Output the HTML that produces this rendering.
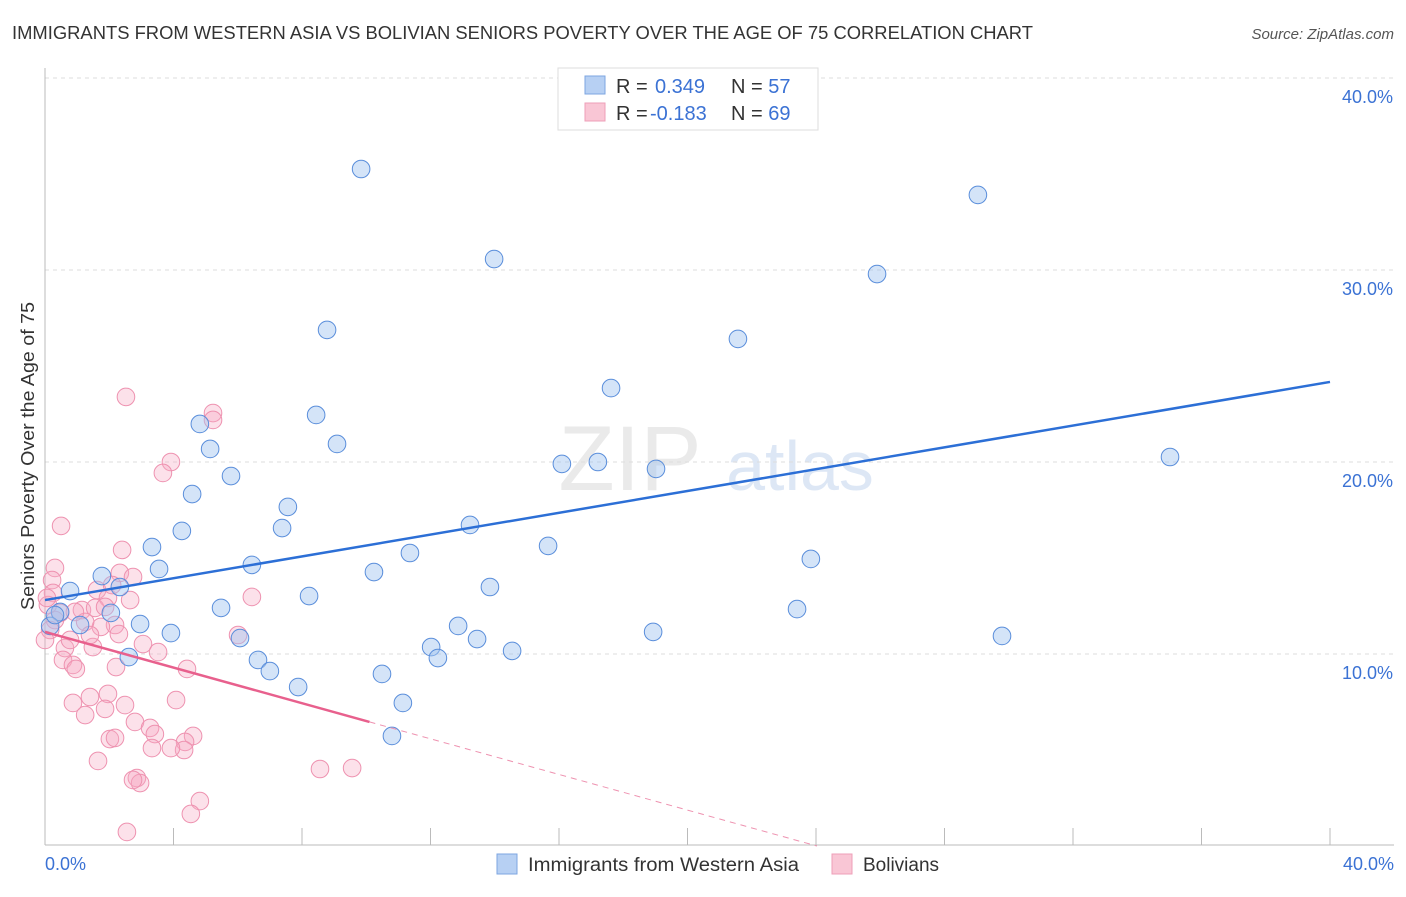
<!DOCTYPE html>
<html><head><meta charset="utf-8"><style>
body{margin:0;background:#fff;font-family:"Liberation Sans",sans-serif;}
svg text{font-family:"Liberation Sans",sans-serif;}
</style></head><body>
<svg id="chart" width="1406" height="892" xmlns="http://www.w3.org/2000/svg">
<text x="12" y="39" font-size="18" fill="#333" textLength="1021" lengthAdjust="spacingAndGlyphs">IMMIGRANTS FROM WESTERN ASIA VS BOLIVIAN SENIORS POVERTY OVER THE AGE OF 75 CORRELATION CHART</text>
<text x="1394" y="39" font-size="15" fill="#555" font-style="italic" text-anchor="end">Source: ZipAtlas.com</text>
<text x="630" y="490" font-size="92" fill="#ddd" font-family="Liberation Serif" text-anchor="middle" opacity="0.6">ZIP</text>
<text x="800" y="490" font-size="70" fill="#c8d8ef" text-anchor="middle" opacity="0.6">atlas</text>
<g id="grid"></g><g id="axes"></g><g id="pts"></g><g id="lines"></g>
<text transform="translate(34,456) rotate(-90)" font-size="18" fill="#333" text-anchor="middle" textLength="308" lengthAdjust="spacingAndGlyphs">Seniors Poverty Over the Age of 75</text>
<g>
<rect x="558" y="68" width="260" height="62" fill="#fff" stroke="#ddd"/>
<rect x="585" y="76" width="20" height="18" fill="#b7d0f3" stroke="#7ea6e0"/>
<rect x="585" y="103" width="20" height="18" fill="#f9c6d5" stroke="#ee9fb8"/>
<text x="616" y="93" font-size="20" fill="#333">R = </text><text x="655" y="93" font-size="20" fill="#3b72d4">0.349</text>
<text x="731" y="93" font-size="20" fill="#333">N = <tspan fill="#3b72d4">57</tspan></text>
<text x="616" y="120" font-size="20" fill="#333">R = </text><text x="650" y="120" font-size="20" fill="#3b72d4">-0.183</text>
<text x="731" y="120" font-size="20" fill="#333">N = <tspan fill="#3b72d4">69</tspan></text>
</g>
<g>
<rect x="497" y="854" width="20" height="20" fill="#b7d0f3" stroke="#7ea6e0"/>
<text x="528" y="871" font-size="19" fill="#333" textLength="271" lengthAdjust="spacingAndGlyphs">Immigrants from Western Asia</text>
<rect x="832" y="854" width="20" height="20" fill="#f9c6d5" stroke="#ee9fb8"/>
<text x="863" y="871" font-size="19" fill="#333">Bolivians</text>
</g>
</svg>
<script>
const blueX=[9.84,29.04,13.98,25.90,8.78,21.57,17.62,8.44,4.82,9.09,5.14,35.02,16.09,17.21,19.02,5.79,4.58,7.56,4.26,7.38,13.23,3.33,15.66,11.36,23.84,6.44,3.55,10.24,1.77,13.85,2.33,0.78,8.22,2.05,5.48,23.41,0.47,1.09,2.96,12.86,3.92,18.93,29.79,0.16,6.07,13.45,12.02,14.54,12.23,2.61,6.63,7.00,7.88,10.49,11.14,10.80,0.31];
const blueY=[35.26,33.91,30.57,29.79,26.88,26.41,23.85,22.45,21.98,20.94,20.68,20.26,19.90,20.00,19.64,19.27,18.33,17.66,16.41,16.56,16.72,15.57,15.63,15.26,14.95,14.64,14.43,14.27,14.06,13.49,13.49,13.28,13.02,12.14,12.40,12.34,12.19,11.51,11.56,11.46,11.09,11.15,10.94,11.46,10.83,10.78,10.36,10.16,9.79,9.84,9.69,9.11,8.28,8.96,7.45,5.73,12.03];
const pinkX=[2.52,5.23,5.23,3.92,3.67,0.50,2.40,0.31,2.33,2.74,0.22,0.25,1.62,1.96,1.15,1.56,1.87,0.47,0.31,2.18,1.74,6.44,6.01,2.30,3.05,3.52,1.49,0.62,0.56,0.87,0.96,2.21,4.42,4.08,0.87,1.40,1.96,1.25,1.87,2.49,2.80,3.27,3.42,4.61,4.36,4.33,3.33,3.92,2.02,2.18,1.65,2.86,2.96,2.74,4.82,4.54,2.55,8.56,9.56,0.09,0.16,0.78,1.25,0.06,0.93,2.09,0,1.40,2.65];
const pinkY=[23.39,22.55,22.19,20.00,19.43,16.67,15.42,14.48,14.22,14.01,13.85,13.18,13.33,12.92,12.29,12.40,12.45,12.14,11.77,11.51,11.41,12.97,10.99,11.04,10.52,10.10,10.36,10.31,9.69,9.43,9.22,9.32,9.22,7.60,7.45,7.76,7.92,6.82,7.14,7.34,6.46,6.15,5.83,5.73,5.42,5.00,5.10,5.10,5.57,5.63,4.43,3.54,3.28,3.44,2.34,1.67,0.73,4.01,4.06,12.55,11.25,10.73,11.67,12.92,12.19,13.59,10.73,10.99,12.81];
const yTicks=[10,20,30,40];
const yTickLabels=["10.0%","20.0%","30.0%","40.0%"];
const blueTrend=[12.81,24.17];
const pinkTrend=[11.15,-0.464];

const NS="http://www.w3.org/2000/svg";
const sx=v=>45+v*32.125, sy=v=>846-v*19.2;
function mk(tag,attrs,parent){const e=document.createElementNS(NS,tag);for(const k in attrs)e.setAttribute(k,attrs[k]);parent.appendChild(e);return e;}
const grid=document.getElementById('grid'),axes=document.getElementById('axes'),pts=document.getElementById('pts'),lines=document.getElementById('lines');
yTicks.forEach((t,i)=>{
 const l=mk('line',{x1:45,x2:1394,y1:sy(t),y2:sy(t),stroke:'#ddd','stroke-dasharray':'4,4'},grid);
 
 
 const tx=mk('text',{x:1393,y:sy(t)+25,'font-size':18,fill:'#3b72d4','text-anchor':'end'},grid);
 tx.textContent=yTickLabels[i];
 
 
});
const ya=mk('line',{x1:45,x2:45,y1:68,y2:845,stroke:'#bbb'},axes);


const xa=mk('line',{x1:45,x2:1394,y1:845,y2:845,stroke:'#bbb'},axes);


for(let v=0;v<=40;v+=4){const t=mk('line',{x1:sx(v),x2:sx(v),y1:828,y2:845,stroke:'#bbb'},axes);
 
 }
[[0,"0.0%",'start',45],[40,"40.0%",'end',1394]].forEach(a=>{const t=mk('text',{x:a[3],y:870,'font-size':18,fill:'#3b72d4','text-anchor':a[2]},axes);t.textContent=a[1];
 
 });
pinkX.forEach((x,i)=>{const c=mk('circle',{cx:sx(x),cy:sy(pinkY[i]),r:8.8,fill:'rgba(245,170,195,0.35)',stroke:'#ee92b0','stroke-width':1},pts);
 
 });
blueX.forEach((x,i)=>{const c=mk('circle',{cx:sx(x),cy:sy(blueY[i]),r:8.8,fill:'rgba(160,195,240,0.45)',stroke:'#5a8edb','stroke-width':1},pts);
 
 });
const bl=mk('line',{x1:sx(0),y1:sy(blueTrend[0]),x2:sx(40),y2:sy(blueTrend[1]),stroke:'#2c6fd6','stroke-width':2.5},lines);


const pEnd=10.1, pZero=-pinkTrend[0]/pinkTrend[1];
const pl=mk('line',{x1:sx(0),y1:sy(pinkTrend[0]),x2:sx(pEnd),y2:sy(pinkTrend[0]+pinkTrend[1]*pEnd),stroke:'#e8608d','stroke-width':2.5},lines);


const pd=mk('line',{x1:sx(pEnd),y1:sy(pinkTrend[0]+pinkTrend[1]*pEnd),x2:sx(pZero),y2:sy(0),stroke:'#ee92b0','stroke-width':1,'stroke-dasharray':'6,5'},lines);


</script>
</body></html>
